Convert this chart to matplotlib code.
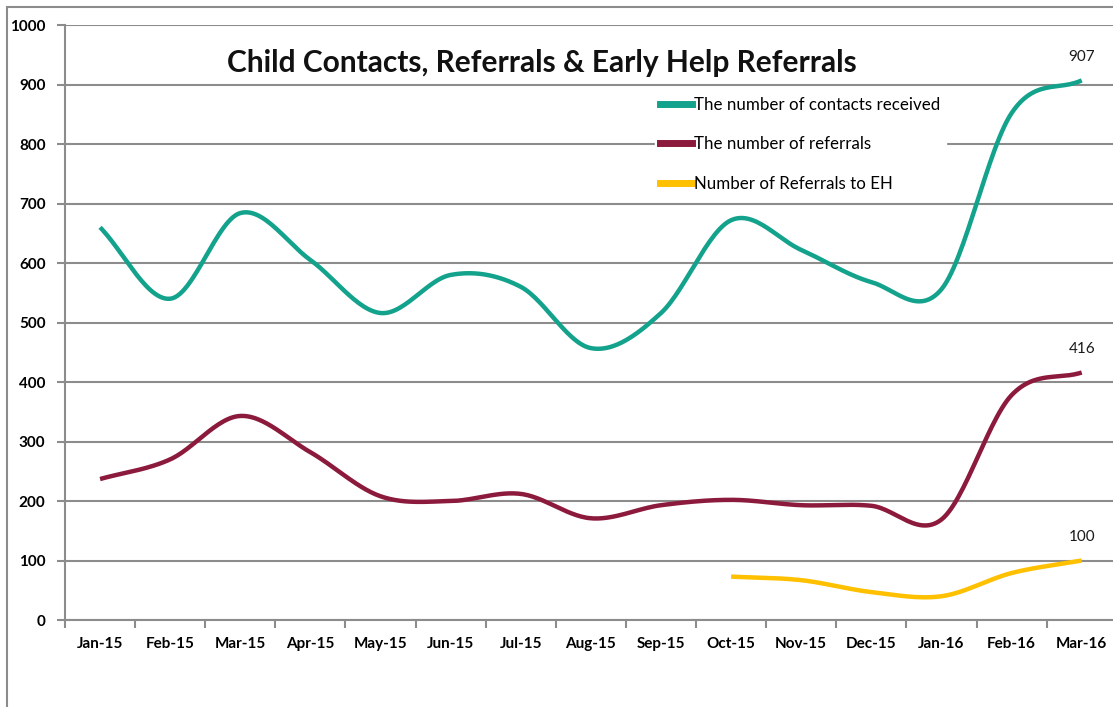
import numpy as np
import matplotlib.pyplot as plt
from matplotlib.lines import Line2D

months = ['Jan-15', 'Feb-15', 'Mar-15', 'Apr-15', 'May-15', 'Jun-15', 'Jul-15',
          'Aug-15', 'Sep-15', 'Oct-15', 'Nov-15', 'Dec-15', 'Jan-16', 'Feb-16', 'Mar-16']
contacts = [660, 540, 684, 605, 516, 580, 560, 457, 516, 672, 622, 568, 556, 852, 907]
referrals = [237, 270, 343, 282, 208, 200, 212, 171, 193, 202, 193, 192, 169, 378, 416]
eh_months = months[9:]
eh_referrals = [73, 67, 47, 40, 79, 100]

teal = '#13A28C'
maroon = '#8C1A3C'
gold = '#FFC000'
grid_c = '#8C8C8C'

plt.rcParams['font.family'] = ['Lato', 'DejaVu Sans']


def smooth(x, y, n=30):
    # catmull-rom style smoothing like excel's smoothed line
    x = np.asarray(x, float)
    y = np.asarray(y, float)
    px = np.concatenate([[2 * x[0] - x[1]], x, [2 * x[-1] - x[-2]]])
    py = np.concatenate([[2 * y[0] - y[1]], y, [2 * y[-1] - y[-2]]])
    xs, ys = [], []
    for i in range(1, len(px) - 2):
        t = np.linspace(0, 1, n)
        for arr, out in ((px, xs), (py, ys)):
            p0, p1, p2, p3 = arr[i - 1], arr[i], arr[i + 1], arr[i + 2]
            out.extend(0.5 * ((2 * p1) + (-p0 + p2) * t + (2 * p0 - 5 * p1 + 4 * p2 - p3) * t ** 2
                              + (-p0 + 3 * p1 - 3 * p2 + p3) * t ** 3))
    return np.array(xs), np.array(ys)


fig = plt.figure(figsize=(11.13, 7.07), dpi=100)
ax = fig.add_axes([0.0584, 0.123, 0.945, 0.8416])

x = np.arange(len(months))
xe = np.arange(9, 15)

for xv, yv, c in ((x, contacts, teal), (x, referrals, maroon), (xe, eh_referrals, gold)):
    sx, sy = smooth(xv, yv)
    ax.plot(sx, sy, color=c, lw=3.2, solid_capstyle='butt', zorder=3)

for yv, xv in ((contacts, x), (referrals, x), (eh_referrals, xe)):
    ax.annotate(str(yv[-1]), (xv[-1], yv[-1]), xytext=(0, 12), textcoords='offset points',
                ha='center', va='bottom', fontsize=11, color='#1a1a1a')

ax.set_xlim(-0.5, 14.5)
ax.set_ylim(0, 1000)
ax.set_yticks(np.arange(0, 1001, 100))
ax.set_yticklabels([str(v) for v in range(0, 1001, 100)], fontsize=11, fontweight='bold')
ax.set_xticks(x)
ax.set_xticklabels(months, fontsize=11, fontweight='bold')
ax.set_xticks(np.arange(-0.5, 14.6, 1), minor=True)
ax.tick_params(axis='x', which='major', length=0, pad=12)
ax.tick_params(axis='x', which='minor', length=6, color=grid_c, width=1.5)
ax.tick_params(axis='y', length=6, color=grid_c, width=1.5, pad=8)
ax.grid(axis='y', color=grid_c, lw=1.5)
ax.set_axisbelow(True)
for s in ('top', 'right'):
    ax.spines[s].set_visible(False)
for s in ('left', 'bottom'):
    ax.spines[s].set_color(grid_c)
    ax.spines[s].set_linewidth(1.5)

ax.text(0.453, 0.937, 'Child Contacts, Referrals & Early Help Referrals', transform=ax.transAxes,
        ha='center', va='center', fontsize=21.5, fontweight='bold', color='#111111')

handles = [Line2D([], [], color=teal, lw=5), Line2D([], [], color=maroon, lw=5),
           Line2D([], [], color=gold, lw=5)]
labels = ['The number of contacts received', 'The number of referrals', 'Number of Referrals to EH']
leg = ax.legend(handles, labels, loc='upper left', bbox_to_anchor=(0.553, 0.902), fontsize=12.2,
                frameon=True, framealpha=1, edgecolor='white', fancybox=False,
                handlelength=1.9, handletextpad=0.12, labelspacing=1.38, borderpad=0.3)
leg.set_zorder(4)

# outer chart border
fig.add_artist(plt.Rectangle((7 / 1113, -0.1), 1.2, 1 - 7 / 707 + 0.1, transform=fig.transFigure,
                             fill=False, edgecolor='#8C8C8C', lw=1.5))

fig.savefig('out.png', dpi=100)
